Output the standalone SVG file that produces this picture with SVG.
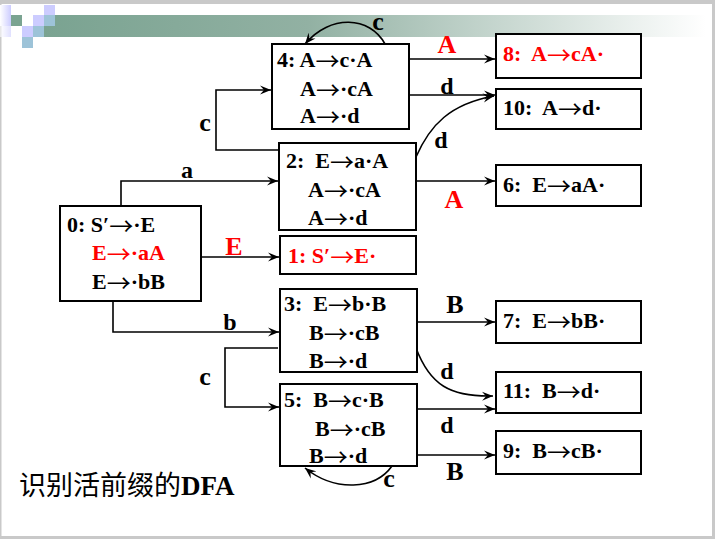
<svg xmlns="http://www.w3.org/2000/svg" width="715" height="539" viewBox="0 0 715 539">
<defs>
<linearGradient id="band" x1="0" y1="0" x2="1" y2="0">
<stop offset="0" stop-color="#7aa391"/>
<stop offset="0.4" stop-color="#92b1a3"/>
<stop offset="1" stop-color="#ffffff"/>
</linearGradient>
<linearGradient id="lav" x1="0" y1="0" x2="1" y2="0">
<stop offset="0" stop-color="#ffffff"/>
<stop offset="1" stop-color="#ccccff"/>
</linearGradient>
<marker id="ah" markerWidth="12" markerHeight="10" refX="11" refY="5" orient="auto" markerUnits="userSpaceOnUse">
<path d="M0,0.5 L11,5 L0,9.5 L4,5 Z" fill="#000"/>
</marker>
<style>
.box{fill:#fff;stroke:#000;stroke-width:2}
.t{font-family:"Liberation Serif","Times New Roman",serif;font-weight:bold;font-size:22px;fill:#000}
.r{fill:#ff0000}
.ar{font-family:"Noto Sans CJK SC",sans-serif;font-weight:normal;font-size:24px}
.lbl{font-family:"Liberation Serif","Times New Roman",serif;font-weight:bold;font-size:24px;fill:#000;text-anchor:middle}
.lr{font-size:26px;fill:#ff0000}
.lb{font-size:26px;fill:#000}
.big{font-size:26px}
.e{fill:none;stroke:#000;stroke-width:1.6;marker-end:url(#ah)}
</style>
</defs>
<rect x="0" y="0" width="715" height="539" fill="#ffffff"/>
<rect x="0" y="0" width="715" height="4" fill="#c9c9c9"/>
<rect x="712" y="0" width="3" height="539" fill="#c9c9c9"/>
<rect x="0" y="536" width="715" height="3" fill="#c9c9c9"/>
<rect x="0" y="0" width="1.5" height="539" fill="#c9c9c9"/>
<g id="header">
<rect x="44" y="15" width="662" height="22" fill="url(#band)"/>
<rect x="0" y="5" width="11" height="10" fill="url(#lav)"/>
<rect x="44" y="5" width="11" height="10" fill="#ccccff"/>
<rect x="0" y="15" width="11" height="11" fill="url(#lav)"/>
<rect x="11" y="15" width="11" height="11" fill="#7aa391"/>
<rect x="33" y="15" width="11" height="11" fill="#ccccff"/>
<rect x="44" y="15" width="11" height="11" fill="#9dc3d8"/>
<rect x="0" y="26" width="11" height="11" fill="url(#lav)" opacity="0.6"/>
<rect x="22" y="26" width="11" height="11" fill="#ccccff"/>
<rect x="33" y="26" width="11" height="11" fill="#9dc3d8"/>
<rect x="22" y="37" width="11" height="11" fill="#9dc3d8"/>
</g>
<g id="connectors">
<path class="e" d="M121,206 V181 H278"/>
<path class="e" d="M201,257 H279"/>
<path class="e" d="M113,301 V332 H279"/>
<path class="e" d="M278,348 H225 V407 H279"/>
<path class="e" d="M279,150 H216 V90 H271"/>
<path class="e" d="M385,44 C370,16 330,14 305,44"/>
<path class="e" d="M409,59 H495"/>
<path class="e" d="M409,95 H495"/>
<path class="e" d="M416,157 C430,125 450,104 494,96"/>
<path class="e" d="M416,181 H495"/>
<path class="e" d="M417,322 H495"/>
<path class="e" d="M416,348 C430,385 450,397 493,396"/>
<path class="e" d="M417,409 H495"/>
<path class="e" d="M417,455 H495"/>
<path class="e" d="M392,466 C375,490 335,492 305,468"/>
<text class="lbl" x="187" y="178">a</text>
<text class="lbl lr" x="234" y="255">E</text>
<text class="lbl" x="230" y="330">b</text>
<text class="lbl big" x="205" y="385">c</text>
<text class="lbl big" x="205" y="131">c</text>
<text class="lbl big" x="378" y="30">c</text>
<text class="lbl lr" x="447" y="53">A</text>
<text class="lbl" x="447" y="94">d</text>
<text class="lbl" x="441" y="148">d</text>
<text class="lbl lr" x="454" y="208">A</text>
<text class="lbl lb" x="455" y="313">B</text>
<text class="lbl" x="447" y="379">d</text>
<text class="lbl" x="447" y="433">d</text>
<text class="lbl lb" x="455" y="480">B</text>
<text class="lbl big" x="389" y="487">c</text>
</g>
<g id="n0">
<rect class="box" x="60" y="206" width="141" height="95"/>
<text class="t" x="67" y="232">0: S′<tspan class="ar" dy="3">→</tspan><tspan dy="-3">·E</tspan></text>
<text class="t r" x="92" y="260">E<tspan class="ar" dy="3">→</tspan><tspan dy="-3">·aA</tspan></text>
<text class="t" x="92" y="289">E<tspan class="ar" dy="3">→</tspan><tspan dy="-3">·bB</tspan></text>
</g>
<g id="n1">
<rect class="box" x="280" y="236" width="136" height="38"/>
<text class="t r" x="288" y="263">1: S′<tspan class="ar" dy="3">→</tspan><tspan dy="-3">E·</tspan></text>
</g>
<g id="n2">
<rect class="box" x="279" y="143" width="137" height="87"/>
<text class="t" x="286" y="168" xml:space="preserve">2:  E<tspan class="ar" dy="3">→</tspan><tspan dy="-3">a·A</tspan></text>
<text class="t" x="308" y="197">A<tspan class="ar" dy="3">→</tspan><tspan dy="-3">·cA</tspan></text>
<text class="t" x="308" y="225">A<tspan class="ar" dy="3">→</tspan><tspan dy="-3">·d</tspan></text>
</g>
<g id="n3">
<rect class="box" x="280" y="289" width="137" height="83"/>
<text class="t" x="284" y="311" xml:space="preserve">3:  E<tspan class="ar" dy="3">→</tspan><tspan dy="-3">b·B</tspan></text>
<text class="t" x="309" y="340">B<tspan class="ar" dy="3">→</tspan><tspan dy="-3">·cB</tspan></text>
<text class="t" x="309" y="368">B<tspan class="ar" dy="3">→</tspan><tspan dy="-3">·d</tspan></text>
</g>
<g id="n4">
<rect class="box" x="272" y="44" width="137" height="85"/>
<text class="t" x="277" y="67">4: A<tspan class="ar" dy="3">→</tspan><tspan dy="-3">c·A</tspan></text>
<text class="t" x="300" y="96">A<tspan class="ar" dy="3">→</tspan><tspan dy="-3">·cA</tspan></text>
<text class="t" x="300" y="123">A<tspan class="ar" dy="3">→</tspan><tspan dy="-3">·d</tspan></text>
</g>
<g id="n5">
<rect class="box" x="280" y="384" width="137" height="82"/>
<text class="t" x="284" y="407" xml:space="preserve">5:  B<tspan class="ar" dy="3">→</tspan><tspan dy="-3">c·B</tspan></text>
<text class="t" x="315" y="436">B<tspan class="ar" dy="3">→</tspan><tspan dy="-3">·cB</tspan></text>
<text class="t" x="309" y="463">B<tspan class="ar" dy="3">→</tspan><tspan dy="-3">·d</tspan></text>
</g>
<g id="n6">
<rect class="box" x="496" y="165" width="145" height="41"/>
<text class="t" x="503" y="192" xml:space="preserve">6:  E<tspan class="ar" dy="3">→</tspan><tspan dy="-3">aA·</tspan></text>
</g>
<g id="n7">
<rect class="box" x="496" y="301" width="145" height="42"/>
<text class="t" x="503" y="328" xml:space="preserve">7:  E<tspan class="ar" dy="3">→</tspan><tspan dy="-3">bB·</tspan></text>
</g>
<g id="n8">
<rect class="box" x="496" y="34" width="145" height="44"/>
<text class="t r" x="503" y="61" xml:space="preserve">8:  A<tspan class="ar" dy="3">→</tspan><tspan dy="-3">cA·</tspan></text>
</g>
<g id="n9">
<rect class="box" x="496" y="431" width="145" height="43"/>
<text class="t" x="503" y="458" xml:space="preserve">9:  B<tspan class="ar" dy="3">→</tspan><tspan dy="-3">cB·</tspan></text>
</g>
<g id="n10">
<rect class="box" x="496" y="89" width="145" height="40"/>
<text class="t" x="503" y="115" xml:space="preserve">10:  A<tspan class="ar" dy="3">→</tspan><tspan dy="-3">d·</tspan></text>
</g>
<g id="n11">
<rect class="box" x="496" y="372" width="145" height="41"/>
<text class="t" x="503" y="398" xml:space="preserve">11:  B<tspan class="ar" dy="3">→</tspan><tspan dy="-3">d·</tspan></text>
</g>
<text x="19" y="495" font-family="'Noto Sans CJK SC', sans-serif" font-size="27" fill="#000">识别活前缀的<tspan font-family="'Liberation Serif', serif" font-weight="bold">DFA</tspan></text>
</svg>
